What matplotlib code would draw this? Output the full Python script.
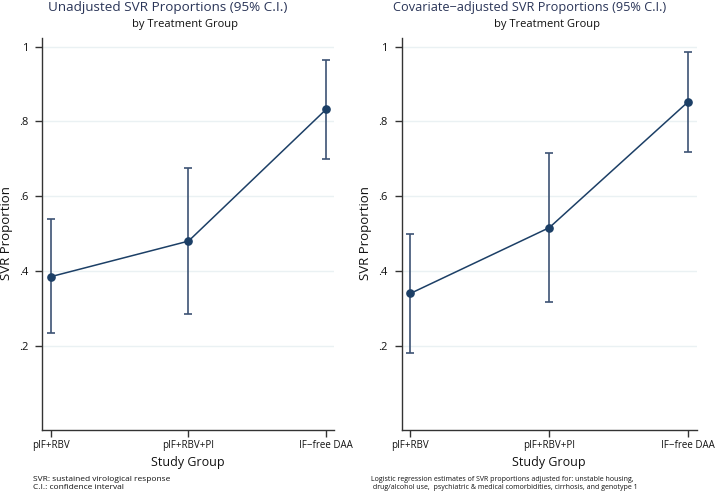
import matplotlib
matplotlib.use("Agg")
import matplotlib.pyplot as plt

groups = ["pIF+RBV", "pIF+RBV+PI", "IF\u2212free DAA"]
x_pos = [1, 2, 3]

unadj_est = [0.385, 0.480, 0.832]
unadj_lo = [0.233, 0.285, 0.700]
unadj_hi = [0.538, 0.675, 0.965]

adj_est = [0.340, 0.516, 0.853]
adj_lo = [0.180, 0.317, 0.717]
adj_hi = [0.500, 0.716, 0.986]

yticks = [0.2, 0.4, 0.6, 0.8, 1.0]
ytick_labels = [".2", ".4", ".6", ".8", "1"]

titles = ["Unadjusted SVR Proportions (95% C.I.)",
          "Covariate\u2212adjusted SVR Proportions (95% C.I.)"]
title_sizes = [9.7, 9.2]
subtitle = "by Treatment Group"
notes = ["SVR: sustained virological response\nC.I.: confidence interval",
         "Logistic regression estimates of SVR proportions adjusted for: unstable housing,\n"
         " drug/alcohol use,  psychiatric & medical comorbidities, cirrhosis, and genotype 1"]
note_sizes = [6.0, 5.0]

plt.rcParams['font.family'] = ['Open Sans', 'DejaVu Sans']

fig = plt.figure(figsize=(7.17, 4.94), dpi=100)
W, H = 717, 494

navy = "#1c3f66"
errc = "#3d5374"
gridc = "#eaf1f3"
spinec = "#333333"

panels = [
    (42, 334, (0.935, 3.058), unadj_est, unadj_lo, unadj_hi, 33, 168, 7),
    (401.7, 696.7, (0.938, 3.06), adj_est, adj_lo, adj_hi, 371, 530, 366),
]
top_px, bot_px = 38, 430

for i, (xl, xr, xlim, est, lo, hi, notex, titlex, ylabx) in enumerate(panels):
    ax = fig.add_axes([xl / W, 1 - bot_px / H, (xr - xl) / W, (bot_px - top_px) / H])
    ax.set_xlim(*xlim)
    ax.set_ylim(-0.025, 1.023)
    for y in yticks:
        ax.axhline(y, color=gridc, lw=1.0, zorder=0)
    yerr = [[e - l for e, l in zip(est, lo)], [h - e for e, h in zip(est, hi)]]
    ax.errorbar(x_pos, est, yerr=yerr, fmt='none', ecolor=errc, elinewidth=1.2,
                capsize=3.0, capthick=1.2, zorder=2)
    ax.plot(x_pos, est, color=navy, lw=1.1, zorder=3)
    ax.plot(x_pos, est, 'o', color=navy, ms=5.2, zorder=4)
    ax.set_yticks(yticks)
    ax.set_yticklabels(ytick_labels)
    ax.set_xticks(x_pos)
    ax.set_xticklabels(groups)
    for s in ["top", "right"]:
        ax.spines[s].set_visible(False)
    for s in ["left", "bottom"]:
        ax.spines[s].set_color(spinec)
        ax.spines[s].set_linewidth(1.0)
    ax.tick_params(axis='both', direction='out', length=5, width=1.0, color=spinec,
                   labelcolor="#111111")
    ax.tick_params(axis='y', labelsize=8, pad=5)
    ax.tick_params(axis='x', labelsize=7, pad=2.5)
    ax.set_ylabel("SVR Proportion", fontsize=9.5, color="#111111")
    ax.yaxis.set_label_coords((ylabx - xl) / (xr - xl), 0.5 + ((bot_px + top_px) / 2 - 233) / (bot_px - top_px))
    ax.set_xlabel("Study Group", fontsize=9, color="#111111")
    ax.xaxis.set_label_coords(0.5 - ((xl + xr) / 2 - (188 if i == 0 else 549)) / (xr - xl),
                              -(462 - bot_px) / (bot_px - top_px))
    ax.xaxis.label.set_va('center')
    ax.yaxis.label.set_va('center')
    fig.text(titlex / W, 1 - 7.5 / H, titles[i], ha='center', va='center',
             fontsize=title_sizes[i], color="#2a3558")
    fig.text((titlex + 17) / W, 1 - 24.5 / H, subtitle, ha='center', va='center',
             fontsize=8, color="#111111")
    fig.text(notex / W, 1 - 483.5 / H, notes[i], ha='left', va='center',
             fontsize=note_sizes[i], color="#111111", linespacing=1.05)

fig.savefig("out.png", dpi=100, facecolor="white")
